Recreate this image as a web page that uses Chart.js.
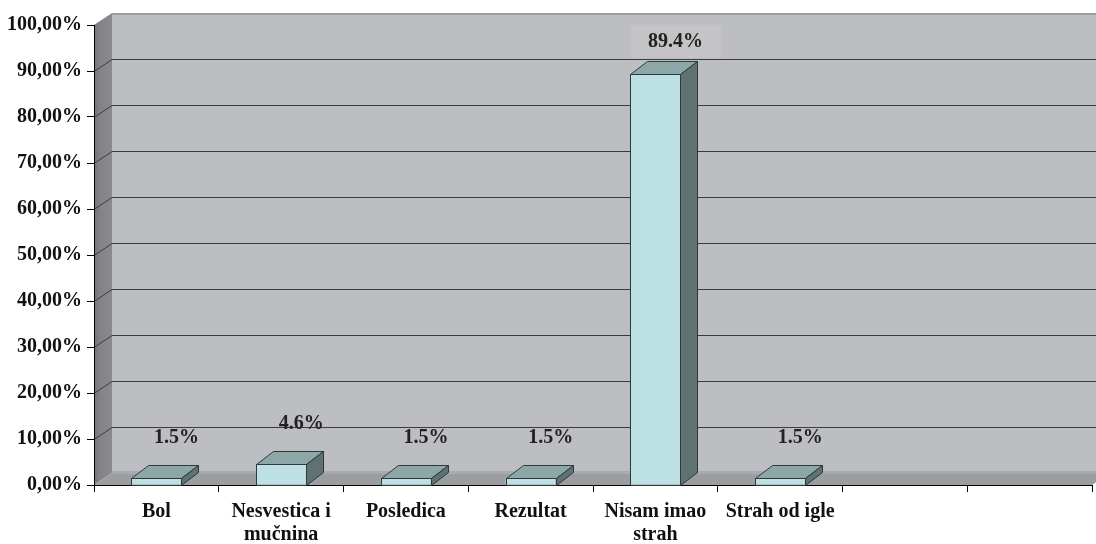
<!DOCTYPE html>
<html>
<head>
<meta charset="utf-8">
<script src="https://cdn.jsdelivr.net/npm/chart.js@4.4.1/dist/chart.umd.min.js"></script>
<style>
  html, body { margin: 0; padding: 0; background: #fff; }
  canvas { display: block; }
</style>
</head>
<body>
<canvas id="chart" width="1096" height="544"></canvas>
<script>
const categories = ["Bol", ["Nesvestica i", "mučnina"], "Posledica", "Rezultat", ["Nisam imao", "strah"], "Strah od igle", "", ""];
const shares = [1.5, 4.6, 1.5, 1.5, 89.4, 1.5, null, null];
const yMax = 100;
const yStep = 10;

const FONT = "'Liberation Serif', 'Times New Roman', serif";
const DX = 18;
const DY = 12;

function formatTick(value) {
  return `${Number(value).toFixed(2).replace(".", ",")}%`;
}

function formatShare(value) {
  return `${value.toFixed(1)}%`;
}

const walls = {
  id: "walls",
  beforeDraw(chart) {
    const { ctx, chartArea, scales } = chart;
    const { left, right, top, bottom } = chartArea;
    const y = scales.y;
    ctx.save();

    // back wall
    ctx.fillStyle = "#bdbec2";
    ctx.fillRect(left + DX, top - DY, chart.width - left - DX, bottom - top);
    ctx.fillStyle = "#9c9da1";
    ctx.fillRect(left + DX, top - DY, chart.width - left - DX, 2);

    // side wall
    const grad = ctx.createLinearGradient(left, 0, left + DX, 0);
    grad.addColorStop(0, "#747478");
    grad.addColorStop(0.35, "#838387");
    grad.addColorStop(1, "#8b8b8f");
    ctx.fillStyle = grad;
    ctx.beginPath();
    ctx.moveTo(left, top);
    ctx.lineTo(left + DX, top - DY);
    ctx.lineTo(left + DX, bottom - DY);
    ctx.lineTo(left, bottom);
    ctx.closePath();
    ctx.fill();

    // floor
    ctx.fillStyle = "#9c9da1";
    ctx.beginPath();
    ctx.moveTo(left, bottom);
    ctx.lineTo(left + DX, bottom - DY);
    ctx.lineTo(right + DX, bottom - DY);
    ctx.lineTo(right, bottom);
    ctx.closePath();
    ctx.fill();
    ctx.fillStyle = "#a9aaae";
    ctx.fillRect(left + DX, bottom - DY - 2, chart.width - left - DX, 3);

    // grid lines on the back wall and side wall
    ctx.strokeStyle = "#3c3c3e";
    ctx.lineWidth = 1;
    for (let v = yStep; v < yMax; v += yStep) {
      const yf = Math.round(y.getPixelForValue(v)) + 0.5;
      const yb = yf - DY;
      ctx.beginPath();
      ctx.moveTo(left, yf);
      ctx.lineTo(left + DX, yb);
      ctx.lineTo(chart.width, yb);
      ctx.stroke();
    }
    ctx.restore();
  }
};

const bars3d = {
  id: "bars3d",
  afterDatasetsDraw(chart) {
    const { ctx } = chart;
    const meta = chart.getDatasetMeta(0);
    const maxValue = Math.max(...shares.filter((v) => v !== null));
    ctx.save();
    ctx.lineWidth = 1;
    ctx.strokeStyle = "#2e3a3a";
    ctx.lineJoin = "round";
    meta.data.forEach((bar, i) => {
      const value = shares[i];
      if (value === null) {
        return;
      }
      const l = Math.round(bar.x - bar.width / 2) + 0.5;
      const r = Math.round(bar.x + bar.width / 2) + 0.5;
      const t = Math.round(bar.y) + 0.5;
      const b = Math.round(bar.base) + 0.5;

      ctx.fillStyle = "#8da7a8";
      ctx.beginPath();
      ctx.moveTo(l, t);
      ctx.lineTo(l + DX - 1, t - DY - 1);
      ctx.lineTo(r + DX - 1, t - DY - 1);
      ctx.lineTo(r, t);
      ctx.closePath();
      ctx.fill();
      ctx.stroke();

      ctx.fillStyle = "#5e7272";
      ctx.beginPath();
      ctx.moveTo(r, t);
      ctx.lineTo(r + DX - 1, t - DY - 1);
      ctx.lineTo(r + DX - 1, b - DY - 1);
      ctx.lineTo(r, b);
      ctx.closePath();
      ctx.fill();
      ctx.stroke();

      ctx.strokeRect(l, t, r - l, b - t);

      // value label
      const text = formatShare(value);
      const lx = bar.x + 20;
      const ly = value === maxValue ? bar.y - 32 : bar.y - 40;
      ctx.font = `bold 20px ${FONT}`;
      if (value === maxValue) {
        ctx.fillStyle = "#c4c4c6";
        ctx.fillRect(lx - 45, ly - 17, 91, 33);
      }
      ctx.fillStyle = "#222";
      ctx.textAlign = "center";
      ctx.textBaseline = "middle";
      ctx.fillText(text, lx, ly);
    });
    ctx.restore();
  }
};

new Chart(document.getElementById("chart"), {
  type: "bar",
  data: {
    labels: categories,
    datasets: [
      {
        data: shares,
        backgroundColor: "#bde0e5",
        borderWidth: 0,
        barPercentage: 0.4,
        categoryPercentage: 1
      }
    ]
  },
  options: {
    responsive: false,
    animation: false,
    devicePixelRatio: 1,
    layout: { padding: { top: 25, right: 4, left: 0, bottom: 0 } },
    plugins: {
      legend: { display: false },
      tooltip: { enabled: false }
    },
    scales: {
      x: {
        grid: { drawOnChartArea: false, offset: true, tickLength: 7, color: "#000" },
        border: { color: "#000", width: 1 },
        ticks: {
          color: "#111",
          font: { family: FONT, size: 20, weight: "bold", lineHeight: 1.15 },
          padding: 8,
          maxRotation: 0,
          autoSkip: false
        },
        afterFit: (scale) => {
          scale.height = 59;
        }
      },
      y: {
        min: 0,
        max: yMax,
        grid: { drawOnChartArea: false, tickLength: 7, color: "#000" },
        border: { color: "#000", width: 1 },
        ticks: {
          stepSize: yStep,
          color: "#111",
          font: { family: FONT, size: 20, weight: "bold" },
          padding: 5,
          callback: (value) => formatTick(value)
        },
        afterFit: (scale) => {
          scale.width = 94;
        }
      }
    }
  },
  plugins: [walls, bars3d]
});
</script>
</body>
</html>
